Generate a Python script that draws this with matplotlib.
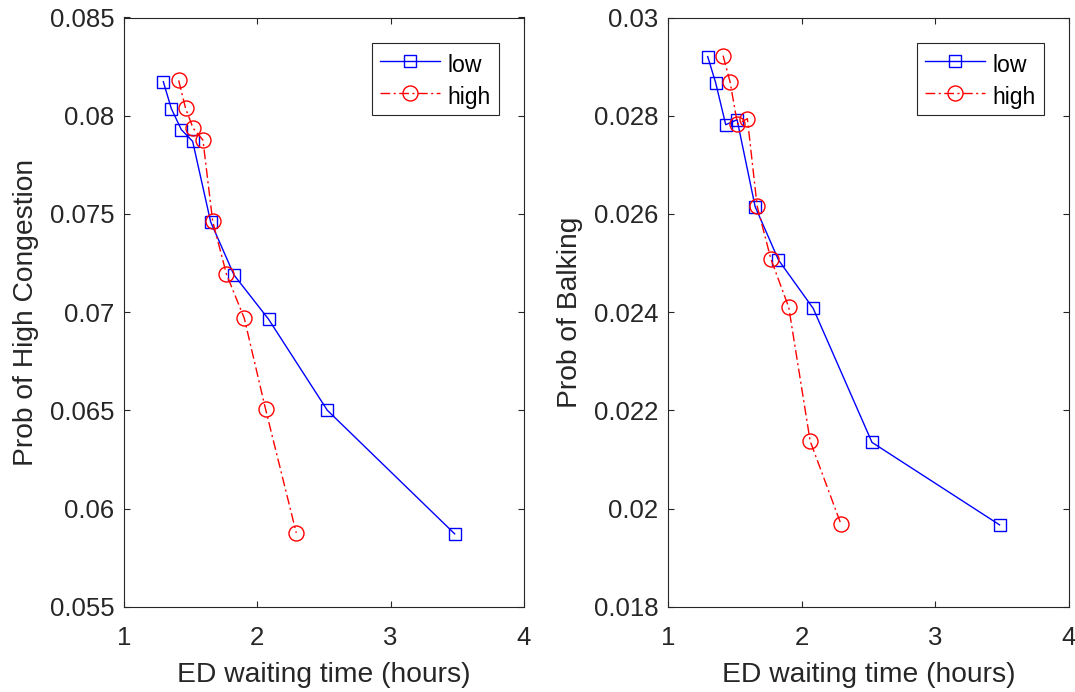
import matplotlib
matplotlib.use("Agg")
import matplotlib.pyplot as plt
from matplotlib.transforms import ScaledTranslation

# ---- data ----
low_x = [1.295, 1.355, 1.43, 1.515, 1.65, 1.825, 2.085, 2.525, 3.48]
high_x = [1.41, 1.462, 1.518, 1.592, 1.665, 1.768, 1.902, 2.062, 2.292]

cong_low = [0.08173, 0.08036, 0.07929, 0.07869, 0.07459, 0.07189, 0.06963, 0.06500, 0.05871]
cong_high = [0.0818, 0.08037, 0.07937, 0.07876, 0.07463, 0.07194, 0.06969, 0.06505, 0.05876]

balk_low = [0.029204, 0.028667, 0.027816, 0.027918, 0.026149, 0.025061, 0.024075, 0.021347, 0.019667]
balk_high = [0.029224, 0.028694, 0.02783, 0.027939, 0.026163, 0.025082, 0.024095, 0.021374, 0.019687]

x_ticks = [1, 2, 3, 4]
x_tick_labels = ["1", "2", "3", "4"]
cong_ticks = [0.055, 0.06, 0.065, 0.07, 0.075, 0.08, 0.085]
cong_tick_labels = ["0.055", "0.06", "0.065", "0.07", "0.075", "0.08", "0.085"]
balk_ticks = [0.018, 0.02, 0.022, 0.024, 0.026, 0.028, 0.03]
balk_tick_labels = ["0.018", "0.02", "0.022", "0.024", "0.026", "0.028", "0.03"]

series_names = ["low", "high"]
x_label = "ED waiting time (hours)"
y_labels = ["Prob of High Congestion", "Prob of Balking"]

# ---- style ----
plt.rcParams['font.family'] = ['Liberation Sans', 'DejaVu Sans']
FS_TICK = 18.5
FS_LAB = 20.3
FS_LEG = 16.6
TXT = '#262626'

fig = plt.figure(figsize=(10.75, 6.92), dpi=100)
W, H = 1075, 692
ax1 = fig.add_axes([124 / W, (H - 606.7) / H, (524 - 124) / W, (606.7 - 17.5) / H])
ax2 = fig.add_axes([668.3 / W, (H - 606.7) / H, (1069 - 668.3) / W, (606.7 - 17.5) / H])

dashdot = (0, (7, 2.5, 1.5, 2.5))

panels = [
    (ax1, cong_low, cong_high, cong_ticks, cong_tick_labels, (0.055, 0.085), y_labels[0]),
    (ax2, balk_low, balk_high, balk_ticks, balk_tick_labels, (0.018, 0.03), y_labels[1]),
]

for ax, ylow, yhigh, yt, ytl, ylim, ylab in panels:
    ax.plot(low_x, ylow, color=(0, 0, 1), linestyle='-', linewidth=1.0,
            marker='s', markersize=8.6, markerfacecolor='none',
            markeredgecolor=(0, 0, 1), markeredgewidth=1.0, label=series_names[0])
    ax.plot(high_x, yhigh, color=(1, 0, 0), linestyle=dashdot, linewidth=1.0,
            marker='o', markersize=10.8, markerfacecolor='none',
            markeredgecolor=(1, 0, 0), markeredgewidth=1.0, label=series_names[1])
    ax.set_xlim(1, 4)
    ax.set_ylim(*ylim)
    ax.set_xticks(x_ticks, x_tick_labels)
    ax.set_yticks(yt, ytl)
    ax.tick_params(axis='both', which='both', direction='in', length=4.3, width=0.8,
                   top=True, right=True, colors=TXT, labelsize=FS_TICK, labelcolor=TXT)
    ax.tick_params(axis='x', pad=13.8)
    ax.tick_params(axis='y', pad=7)
    for sp in ax.spines.values():
        sp.set_color(TXT)
        sp.set_linewidth(0.8)
    ax.set_xlabel(x_label, fontsize=FS_LAB, color=TXT, labelpad=9)
    ax.set_ylabel(ylab, fontsize=FS_LAB, color=TXT, labelpad=8)
    leg = ax.legend(loc='upper right', bbox_to_anchor=(1 - 25 / 400, 1 - 25 / 589),
                    fontsize=FS_LEG, frameon=True, fancybox=False, framealpha=1,
                    edgecolor=TXT, handlelength=2.6, handletextpad=0.3,
                    borderpad=0.37, labelspacing=0.4, borderaxespad=0)
    leg.get_frame().set_linewidth(0.8)
    for t in leg.get_texts():
        t.set_color('black')
        t.set_transform(t.get_transform() + ScaledTranslation(0, -2 / 72, fig.dpi_scale_trans))

fig.savefig("out.png", dpi=100)
